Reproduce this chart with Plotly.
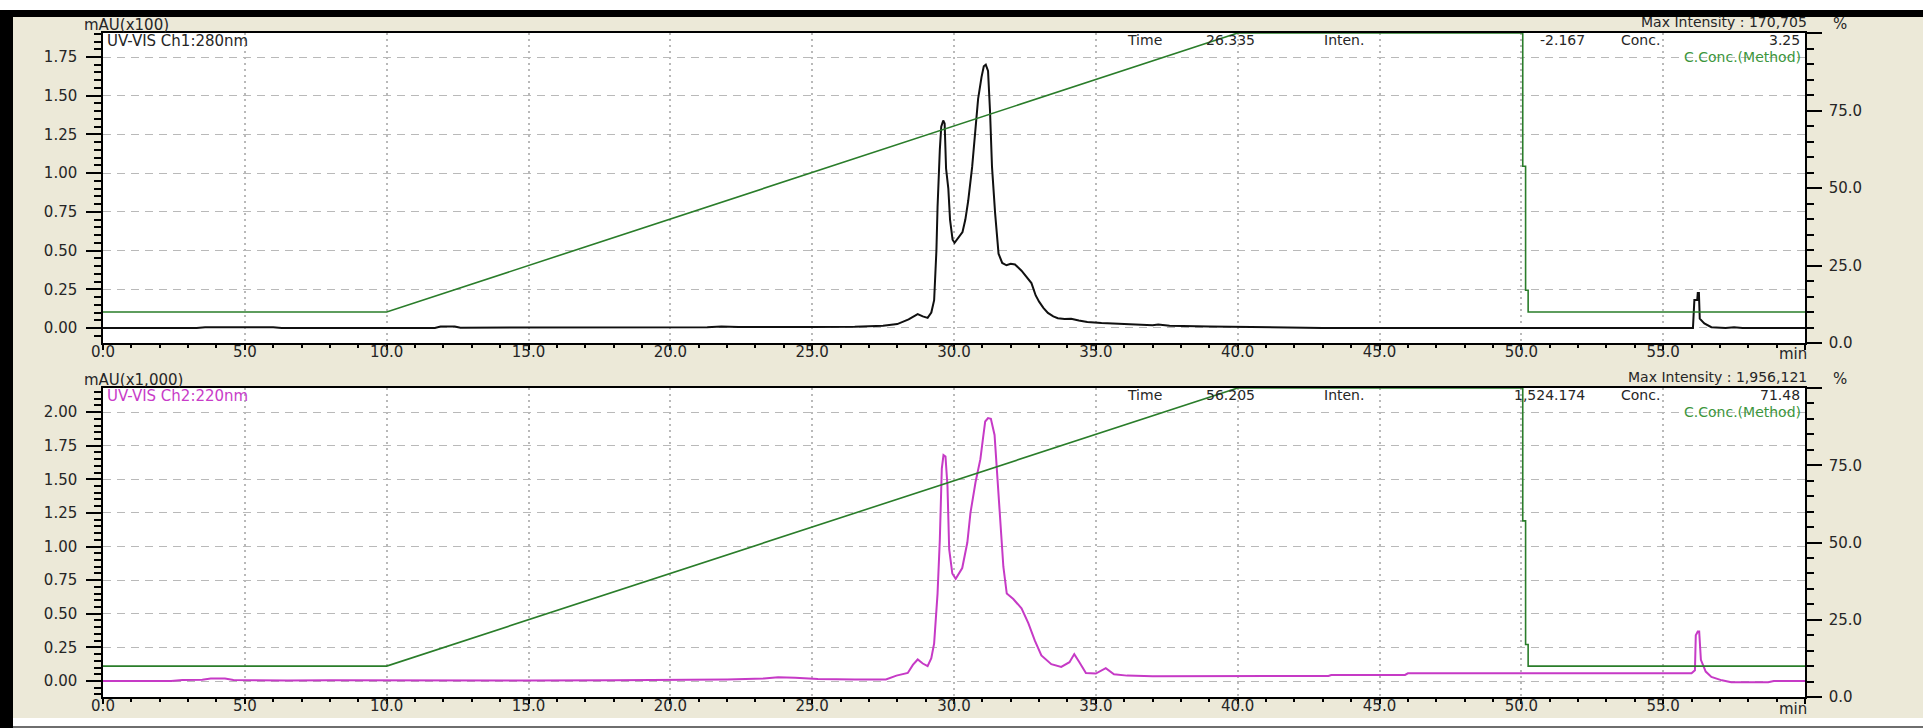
import plotly.graph_objects as go

W, H = 1923, 728

# Ch1 (280 nm) absorbance, mAU x100
ch1_time = [0.0, 3.3, 3.6, 6.0, 6.3, 11.7, 11.9, 12.4, 12.6, 17.0, 21.3, 21.8, 22.4, 25.0,
            26.5, 27.5, 28.0, 28.4, 28.72, 28.9, 29.07, 29.2, 29.3, 29.38, 29.42, 29.5,
            29.55, 29.62, 29.67, 29.72, 29.8, 29.86, 29.95, 30.02, 30.15, 30.3, 30.4, 30.5,
            30.64, 30.75, 30.85, 30.97, 31.05, 31.12, 31.2, 31.27, 31.34, 31.45, 31.57,
            31.7, 31.85, 32.0, 32.15, 32.38, 32.55, 32.73, 32.88, 33.0, 33.15, 33.31, 33.5,
            33.66, 33.9, 34.13, 34.4, 34.7, 35.2, 35.8, 36.5, 37.0, 37.2, 37.6, 39.0, 40.5,
            41.5, 42.0, 43.0, 50.0, 56.05, 56.1, 56.2, 56.22, 56.26, 56.29, 56.45, 56.7,
            57.2, 57.5, 57.8, 60.0]
ch1_abs = [0.000, 0.000, 0.005, 0.005, 0.000, 0.000, 0.010, 0.010, 0.002, 0.003, 0.005, 0.010,
           0.006, 0.006, 0.008, 0.015, 0.025, 0.055, 0.090, 0.075, 0.065, 0.100, 0.180, 0.500,
           0.780, 1.150, 1.300, 1.340, 1.320, 1.030, 0.900, 0.700, 0.570, 0.550, 0.580, 0.620,
           0.700, 0.820, 1.040, 1.300, 1.480, 1.620, 1.690, 1.700, 1.660, 1.400, 1.040, 0.740,
           0.480, 0.420, 0.405, 0.415, 0.410, 0.370, 0.330, 0.290, 0.210, 0.170, 0.130, 0.097,
           0.075, 0.063, 0.058, 0.060, 0.048, 0.038, 0.032, 0.026, 0.020, 0.018, 0.022, 0.014,
           0.010, 0.006, 0.008, 0.005, 0.000, 0.000, 0.000, 0.180, 0.180, 0.226, 0.226, 0.060,
           0.030, 0.005, 0.000, 0.004, 0.000, 0.000]

# Ch2 (220 nm) absorbance, mAU x1,000
ch2_time = [0.0, 2.4, 2.8, 3.5, 3.8, 4.3, 4.6, 5.5, 6.5, 8.0, 10.0, 13.0, 15.0, 18.0, 20.0,
            22.0, 23.3, 23.8, 24.4, 25.2, 26.5, 27.6, 27.97, 28.37, 28.55, 28.72, 28.9, 29.07,
            29.2, 29.3, 29.42, 29.5, 29.57, 29.63, 29.7, 29.77, 29.83, 29.94, 30.06, 30.29,
            30.47, 30.58, 30.76, 30.93, 31.02, 31.1, 31.2, 31.3, 31.43, 31.51, 31.63, 31.74,
            31.86, 32.09, 32.38, 32.62, 32.85, 33.08, 33.43, 33.78, 34.07, 34.24, 34.42, 34.65,
            35.0, 35.35, 35.64, 36.1, 37.0, 40.0, 43.2, 43.3, 45.9, 46.0, 56.0, 56.12, 56.15,
            56.22, 56.27, 56.33, 56.5, 56.7, 57.07, 57.4, 58.7, 58.9, 60.0]
ch2_abs = [0.000, 0.000, 0.008, 0.010, 0.018, 0.018, 0.008, 0.005, 0.003, 0.005, 0.003, 0.005,
           0.003, 0.006, 0.008, 0.012, 0.018, 0.028, 0.025, 0.015, 0.012, 0.012, 0.040, 0.060,
           0.120, 0.160, 0.130, 0.110, 0.170, 0.280, 0.650, 1.050, 1.580, 1.680, 1.670, 1.450,
           0.980, 0.800, 0.760, 0.840, 1.030, 1.250, 1.480, 1.650, 1.800, 1.930, 1.955, 1.950,
           1.830, 1.580, 1.200, 0.850, 0.650, 0.610, 0.540, 0.430, 0.300, 0.190, 0.125, 0.105,
           0.140, 0.200, 0.140, 0.060, 0.055, 0.095, 0.050, 0.040, 0.035, 0.035, 0.037, 0.045,
           0.045, 0.057, 0.057, 0.080, 0.340, 0.368, 0.368, 0.157, 0.070, 0.030, 0.005, -0.010,
           -0.010, 0.000, 0.000]

# Gradient program, C.Conc. (%)
grad_time = [0.0, 10.0, 40.0, 50.05, 50.05, 50.15, 50.15, 50.24, 50.24, 60.0]
grad_conc = [10, 10, 100, 100, 57, 57, 17, 17, 10, 10]

x_ticks = [0, 5, 10, 15, 20, 25, 30, 35, 40, 45, 50, 55, 60]
x_labels = ["0.0", "5.0", "10.0", "15.0", "20.0", "25.0", "30.0", "35.0", "40.0",
            "45.0", "50.0", "55.0", ""]
ch1_ticks = [0.00, 0.25, 0.50, 0.75, 1.00, 1.25, 1.50, 1.75]
ch2_ticks = [0.00, 0.25, 0.50, 0.75, 1.00, 1.25, 1.50, 1.75, 2.00]
pct_ticks = [0, 25, 50, 75, 100]
pct_labels = ["0.0", "25.0", "50.0", "75.0", ""]

BEIGE = "#ECE9D8"
GRID = "#B9B9B9"
GREEN = "#2A7D2A"
MAGENTA = "#C63AC6"
INK = "#262626"
FONT = "DejaVu Sans"
FS_TICK = 15
FS_NOTE = 14


def px(xp):
    return xp / W


def py(yp):
    return 1 - yp / H


fig = go.Figure()

fig.add_trace(go.Scatter(x=ch1_time, y=ch1_abs, mode="lines", xaxis="x", yaxis="y",
                         line=dict(color="#101010", width=2), showlegend=False))
fig.add_trace(go.Scatter(x=grad_time, y=grad_conc, mode="lines", xaxis="x", yaxis="y2",
                         line=dict(color=GREEN, width=1.6), showlegend=False))
fig.add_trace(go.Scatter(x=ch2_time, y=ch2_abs, mode="lines", xaxis="x2", yaxis="y3",
                         line=dict(color=MAGENTA, width=2), showlegend=False))
fig.add_trace(go.Scatter(x=grad_time, y=grad_conc, mode="lines", xaxis="x2", yaxis="y4",
                         line=dict(color=GREEN, width=1.6), showlegend=False))

tickfont = dict(family=FONT, size=FS_TICK, color=INK)
x_dom = [px(103), px(1805)]


def time_axis(anchor):
    return dict(domain=x_dom, anchor=anchor, range=[0, 60], tickvals=x_ticks, ticktext=x_labels,
                ticks="outside", ticklen=5, tickwidth=2, tickcolor="black", tickfont=tickfont,
                ticklabelstandoff=-11,
                minor=dict(dtick=1, tick0=0, ticks="outside", ticklen=3, tickwidth=2,
                           tickcolor="black", showgrid=False),
                showgrid=True, gridcolor=GRID, griddash="2px,4px", gridwidth=1.5,
                showline=True, linecolor="black", linewidth=1.5, mirror=True,
                zeroline=False, automargin=False, fixedrange=True)


def abs_axis(anchor, dom, rng, vals):
    return dict(domain=dom, anchor=anchor, range=rng, tickvals=vals, tickformat=".2f",
                ticks="outside", ticklen=15, tickwidth=1.5, tickcolor="black", tickfont=tickfont,
                ticklabelstandoff=6,
                minor=dict(dtick=0.05, tick0=0, ticks="outside", ticklen=7, tickwidth=1.5,
                           tickcolor="black", showgrid=False),
                showgrid=True, gridcolor=GRID, griddash="8px,6px", gridwidth=1,
                showline=True, linecolor="black", linewidth=1.5,
                zeroline=False, automargin=False, fixedrange=True)


def pct_axis(anchor, over):
    return dict(overlaying=over, anchor=anchor, side="right", range=[0, 100],
                tickvals=pct_ticks, ticktext=pct_labels,
                ticks="outside", ticklen=15, tickwidth=1.5, tickcolor="black", tickfont=tickfont,
                ticklabelstandoff=4,
                minor=dict(dtick=5, tick0=0, ticks="outside", ticklen=7, tickwidth=1.5,
                           tickcolor="black", showgrid=False),
                showgrid=False, showline=True, linecolor="black", linewidth=1.5,
                zeroline=False, automargin=False, fixedrange=True)


fig.update_layout(
    width=W, height=H,
    margin=dict(l=0, r=0, t=0, b=0, pad=0),
    paper_bgcolor=BEIGE, plot_bgcolor="white",
    template="none",
    showlegend=False,
    xaxis=time_axis("y"),
    yaxis=abs_axis("x", [py(343), py(33)], [-0.097, 1.905], ch1_ticks),
    yaxis2=pct_axis("x", "y"),
    xaxis2=time_axis("y3"),
    yaxis3=abs_axis("x2", [py(697), py(388)], [-0.119, 2.179], ch2_ticks),
    yaxis4=pct_axis("x2", "y3"),
)

# Window frame
shapes = [
    dict(type="rect", xref="paper", yref="paper", x0=0, x1=1, y0=py(10), y1=1,
         fillcolor="white", line=dict(width=0), layer="above"),
    dict(type="rect", xref="paper", yref="paper", x0=0, x1=1, y0=py(17), y1=py(10),
         fillcolor="black", line=dict(width=0), layer="above"),
    dict(type="rect", xref="paper", yref="paper", x0=0, x1=px(13), y0=0, y1=py(10),
         fillcolor="black", line=dict(width=0), layer="above"),
    dict(type="rect", xref="paper", yref="paper", x0=px(13), x1=1, y0=py(726), y1=py(718),
         fillcolor="white", line=dict(width=0), layer="above"),
    dict(type="rect", xref="paper", yref="paper", x0=px(13), x1=1, y0=0, y1=py(726),
         fillcolor="#6E6E6E", line=dict(width=0), layer="above"),
]
fig.update_layout(shapes=shapes)


def label(text, xp, yp, anchor="left", color=INK, size=FS_NOTE):
    fig.add_annotation(text=text, xref="paper", yref="paper", x=px(xp), y=py(yp),
                       xanchor=anchor, yanchor="middle", showarrow=False, borderpad=0,
                       font=dict(family=FONT, size=size, color=color))


panels = [
    dict(dy=0, unit="mAU(x100)", name="UV-VIS Ch1:280nm", name_color=INK,
         time="26.335", inten="-2.167", conc="3.25", maxi="Max Intensity : 170,705"),
    dict(dy=355, unit="mAU(x1,000)", name="UV-VIS Ch2:220nm", name_color="#C83CC8",
         time="56.205", inten="1,524.174", conc="71.48", maxi="Max Intensity : 1,956,121"),
]
for p in panels:
    d = p["dy"]
    label(p["unit"], 83, 25 + d, size=FS_TICK)
    label(p["name"], 106, 41 + d, color=p["name_color"], size=FS_TICK)
    label("Time", 1126, 40 + d)
    label(p["time"], 1205, 40 + d)
    label("Inten.", 1323, 40 + d)
    label(p["inten"], 1586, 40 + d, anchor="right")
    label("Conc.", 1620, 40 + d)
    label(p["conc"], 1801, 40 + d, anchor="right")
    label("C.Conc.(Method)", 1802, 57 + d, anchor="right", color="#3C963C")
    label(p["maxi"], 1808, 22 + d, anchor="right")
    label("%", 1832, 24 + d, size=FS_TICK)
    label("min", 1808, 354 + d, anchor="right", size=FS_TICK)

fig.write_html("out.html")
